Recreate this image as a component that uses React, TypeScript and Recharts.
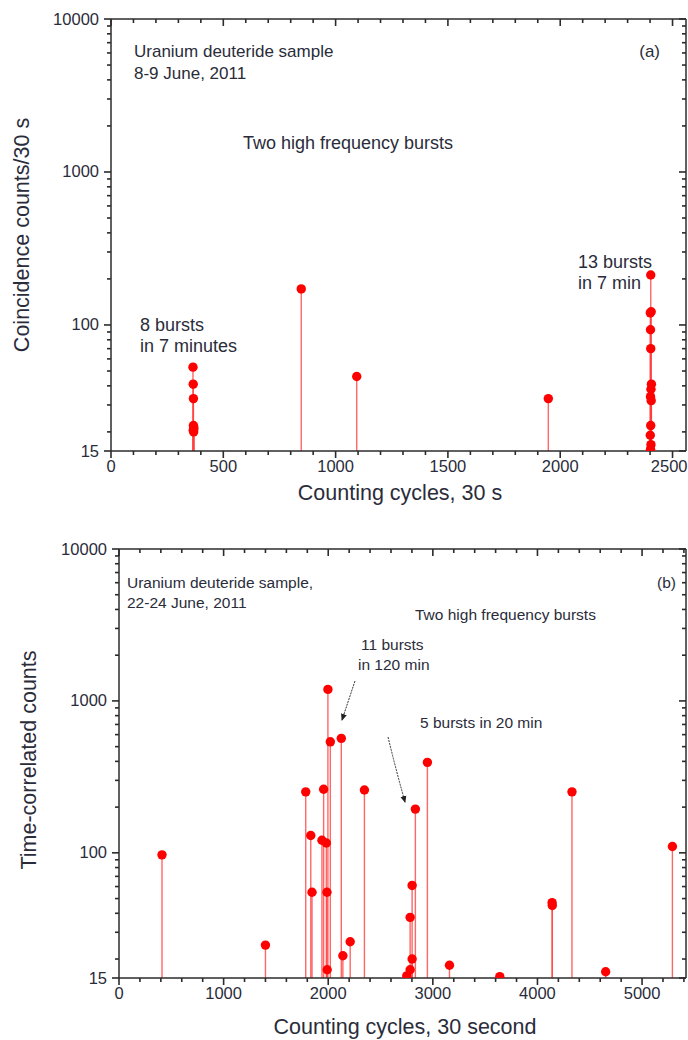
import React from 'react';
import { ScatterChart, Scatter, XAxis, YAxis, ReferenceLine } from 'recharts';

// panel (a): 8-9 June 2011, counts per 30 s cycle
const cyclesA = [365, 366, 367, 367, 368, 369, 366, 368, 847, 1094, 1947, 2403, 2405, 2401, 2402, 2403, 2406, 2404, 2402, 2405, 2403, 2401, 2404, 2402];
const countsA = [53, 41, 33, 22, 21.5, 21, 20.5, 20, 172, 46, 33, 212, 122, 120, 93, 70, 41, 38, 34, 32, 22, 19, 16.5, 15.4];

// panel (b): 22-24 June 2011
const cyclesB = [411, 1400, 1785, 1833, 1845, 1940, 1956, 1982, 1988, 1990, 1997, 2020, 2125, 2140, 2210, 2346, 2751, 2783, 2783, 2802, 2802, 2833, 2948, 3159, 3640, 4140, 4142, 4330, 4652, 5290];
const countsB = [97, 24.7, 252, 130, 55, 121, 262, 116, 55, 17, 1191, 538, 567, 21, 26, 259, 15.5, 17, 37.6, 20, 61, 194, 394, 18.2, 15.3, 47, 45, 252, 16.5, 110];

const xLabelsA = [0, 500, 1000, 1500, 2000, 2500];
const xLabelsB = [0, 1000, 2000, 3000, 4000, 5000];
const yLabels = [15, 100, 1000, 10000];
const yMinor = [20, 30, 40, 50, 60, 70, 80, 90, 200, 300, 400, 500, 600, 700, 800, 900, 2000, 3000, 4000, 5000, 6000, 7000, 8000, 9000];

const xTicksA = Array.from({ length: 26 }, (_, i) => i * 100);
const xTicksB = Array.from({ length: 28 }, (_, i) => i * 200);
const yTicks = [...yLabels, ...yMinor].sort((a, b) => a - b);

const FONT = '"Liberation Sans", Arial, sans-serif';
const AXIS = '#2b2b2b';
const TEXT = '#2a2c3a';
const TICK_FONT = 16.5;

// tick marks drawn on all four sides of the frame: outward at bottom/left, inward at top/right
const xTickMark = (major: boolean) => (p: any) => {
  const top = Math.min(p.y1, p.y2);
  const bot = Math.max(p.y1, p.y2);
  const len = major ? 7 : 4;
  return (
    <g>
      <line x1={p.x1} x2={p.x1} y1={bot} y2={bot + len} stroke={AXIS} strokeWidth={1.6} />
      <line x1={p.x1} x2={p.x1} y1={top} y2={top + len} stroke={AXIS} strokeWidth={1.6} />
    </g>
  );
};

const yTickMark = (major: boolean) => (p: any) => {
  const l = Math.min(p.x1, p.x2);
  const r = Math.max(p.x1, p.x2);
  const len = major ? 7 : 4;
  return (
    <g>
      <line x1={l - len} x2={l} y1={p.y1} y2={p.y1} stroke={AXIS} strokeWidth={1.6} />
      <line x1={r - len} x2={r} y1={p.y1} y2={p.y1} stroke={AXIS} strokeWidth={1.6} />
    </g>
  );
};

const bottomLabel = (majors: number[]) => (props: any) => {
  const { x, y, payload } = props;
  if (!majors.includes(payload.value)) return <g />;
  // last label sits on the right edge, keep it inside the page
  const edge = x > 660;
  return (
    <text x={edge ? x + 15 : x} y={y + 21} textAnchor={edge ? 'end' : 'middle'} fontSize={TICK_FONT} fill={TEXT} fontFamily={FONT}>{payload.value}</text>
  );
};

const leftLabel = (props: any) => {
  const { x, y, payload } = props;
  if (!yLabels.includes(payload.value)) return <g />;
  return <text x={x - 12} y={y + 5.5} textAnchor="end" fontSize={TICK_FONT} fill={TEXT} fontFamily={FONT}>{payload.value}</text>;
};

const noLabel = () => <g />;
const dot = (p: any) => <circle cx={p.cx} cy={p.cy} r={4.7} fill="#ff0000" />;

type PanelProps = {
  cycles: number[];
  counts: number[];
  xMax: number;
  xTicks: number[];
  xLabels: number[];
  top: number;
  bottom: number;
  left: number;
};

const Panel = ({ cycles, counts, xMax, xTicks, xLabels, top, bottom, left }: PanelProps) => {
  const data = cycles.map((x, i) => ({ x, y: counts[i] }));
  const axisLine = { stroke: AXIS, strokeWidth: 1.5 };
  return (
    <ScatterChart width={688} height={520} margin={{ top, right: 2, bottom: bottom - 30, left: left - 30 }}>
      <XAxis dataKey="x" type="number" domain={[0, xMax]} allowDataOverflow ticks={xTicks} interval={0}
        height={30} tickSize={0} tickMargin={0} tickLine={false} axisLine={axisLine}
        tick={bottomLabel(xLabels)} />
      <XAxis xAxisId="top" orientation="top" mirror dataKey="x" type="number" domain={[0, xMax]} allowDataOverflow ticks={xTicks} interval={0}
        height={1} tickSize={0} tickLine={false} axisLine={axisLine} tick={noLabel} />
      <YAxis dataKey="y" type="number" scale="log" domain={[15, 10000]} allowDataOverflow ticks={yTicks} interval={0}
        width={30} tickSize={0} tickMargin={0} tickLine={false} axisLine={axisLine}
        tick={leftLabel} />
      <YAxis yAxisId="right" orientation="right" mirror dataKey="y" type="number" scale="log" domain={[15, 10000]} allowDataOverflow ticks={yTicks} interval={0}
        width={1} tickSize={0} tickLine={false} axisLine={axisLine} tick={noLabel} />
      {xTicks.map((t) => (
        <ReferenceLine key={'xt' + t} x={t} ifOverflow="extendDomain" shape={xTickMark(xLabels.includes(t))} />
      ))}
      {yTicks.map((t) => (
        <ReferenceLine key={'yt' + t} y={t} ifOverflow="extendDomain" shape={yTickMark(yLabels.includes(t))} />
      ))}
      {data.map((d, i) => (
        <ReferenceLine key={i} segment={[{ x: d.x, y: 15 }, { x: d.x, y: d.y }]} stroke="#ff4040" strokeOpacity={0.8} strokeWidth={1.4} />
      ))}
      <Scatter data={data} shape={dot} isAnimationActive={false} />
      <Scatter data={data} xAxisId="top" yAxisId="right" shape={noLabel} isAnimationActive={false} />
    </ScatterChart>
  );
};

const T = ({ x, y, children, size = 18, anchor = 'start' }: any) => (
  <text x={x} y={y} fontSize={size} fill={TEXT} fontFamily={FONT} textAnchor={anchor}>{children}</text>
);

export default function App() {
  return (
    <div style={{ position: 'absolute', left: 0, top: 0, width: 688, height: 1040, background: '#fff' }}>
      <div style={{ position: 'absolute', left: 0, top: 0 }}>
        <Panel cycles={cyclesA} counts={countsA} xMax={2560} xTicks={xTicksA} xLabels={xLabelsA}
          top={19} bottom={69} left={111} />
      </div>
      <div style={{ position: 'absolute', left: 0, top: 520 }}>
        <Panel cycles={cyclesB} counts={countsB} xMax={5420} xTicks={xTicksB} xLabels={xLabelsB}
          top={29} bottom={62} left={119} />
      </div>
      <svg width={688} height={1040} style={{ position: 'absolute', left: 0, top: 0, pointerEvents: 'none' }}>
        <defs>
          <marker id="head" markerWidth="8" markerHeight="8" refX="6" refY="4" orient="auto">
            <path d="M0,1 L7,4 L0,7 z" fill="#222" />
          </marker>
        </defs>
        {/* panel (a) notes */}
        <T x={134} y={57} size={17}>Uranium deuteride sample</T>
        <T x={134} y={79} size={17}>8-9 June, 2011</T>
        <T x={660} y={57}  size={17} anchor="end">(a)</T>
        <T x={243} y={149}>Two high frequency bursts</T>
        <T x={578} y={268}>13 bursts</T>
        <T x={578} y={289}>in 7 min</T>
        <T x={140} y={331}>8 bursts</T>
        <T x={140} y={352}>in 7 minutes</T>
        <T x={400} y={500} size={21.5} anchor="middle">Counting cycles, 30 s</T>
        <text transform="translate(29,235) rotate(-90)" fontSize={21.5} fill={TEXT} fontFamily={FONT} textAnchor="middle">Coincidence counts/30 s</text>
        {/* panel (b) notes */}
        <T x={127} y={588} size={15.5}>Uranium deuteride sample,</T>
        <T x={127} y={608} size={15.5}>22-24 June, 2011</T>
        <T x={676} y={588} size={15.5} anchor="end">(b)</T>
        <T x={415} y={620} size={15.5}>Two high frequency bursts</T>
        <T x={361} y={650} size={15.5}>11 bursts</T>
        <T x={358} y={670} size={15.5}>in 120 min</T>
        <T x={420} y={728} size={15.5}>5 bursts in 20 min</T>
        <line x1={355} y1={681} x2={342} y2={720} stroke="#333" strokeWidth={1} strokeDasharray="2 1" markerEnd="url(#head)" />
        <path d="M388,737 Q396,770 405,802" fill="none" stroke="#333" strokeWidth={1} strokeDasharray="2 1" markerEnd="url(#head)" />
        <T x={405} y={1034} size={21.5} anchor="middle">Counting cycles, 30 second</T>
        <text transform="translate(36,760) rotate(-90)" fontSize={21.5} fill={TEXT} fontFamily={FONT} textAnchor="middle">Time-correlated counts</text>
      </svg>
    </div>
  );
}
